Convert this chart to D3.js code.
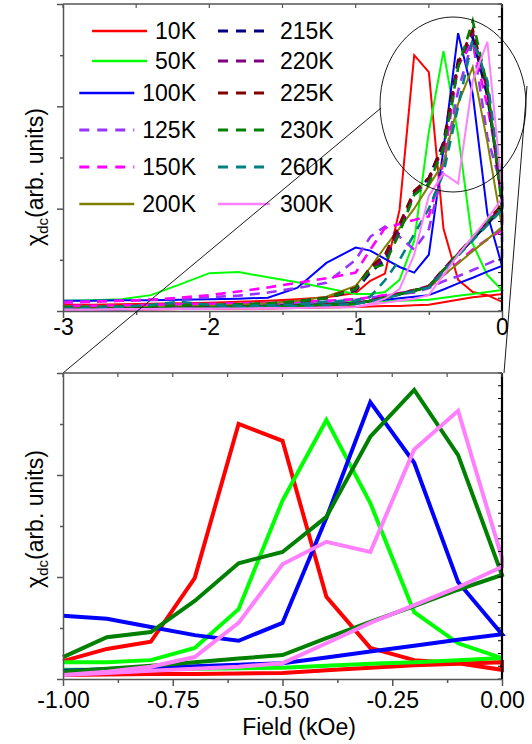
<!DOCTYPE html>
<html>
<head>
<meta charset="utf-8">
<script src="https://cdn.jsdelivr.net/npm/d3@7"></script>
<style>
  body { margin: 0; background: #fff; }
  svg { display: block; font-family: Arial, "Liberation Sans", Helvetica, sans-serif; }
</style>
</head>
<body>
<svg id="chart" width="532" height="744"></svg>
<script>
// Applied field (kOe) at which chi_dc was recorded
const fields = [-3, -2.8, -2.6, -2.4, -2.2, -2.0, -1.8, -1.6, -1.4, -1.2,
                -1.0, -0.9, -0.8, -0.7, -0.6, -0.5, -0.4, -0.3, -0.2, -0.1, 0];

// Temperatures, colours and line styles
const temps   = ["10K", "50K", "100K", "125K", "150K", "200K", "215K", "220K", "225K", "230K", "260K", "300K"];
const colors  = ["#ff0000", "#00ff00", "#0000ff", "#9933ff", "#ff00ff", "#808000",
                 "#000080", "#800080", "#800000", "#008000", "#008080", "#ff80ff"];
const dashed  = [false, false, false, true, true, false, true, true, true, true, true, false];

// chi_dc (arb. units) on the up-sweep branch
const up10  = [0.12,0.12,0.13,0.14,0.15,0.16,0.18,0.20,0.23,0.27,0.35,0.59,0.73,1.98,5.00,4.67,1.61,0.61,0.37,0.31,0.18];
const up50  = [0.20,0.21,0.23,0.31,0.52,0.74,0.76,0.66,0.56,0.45,0.33,0.33,0.37,0.61,1.37,3.50,5.08,3.45,1.31,0.70,0.41];
const up100 = [0.20,0.20,0.21,0.21,0.22,0.23,0.24,0.26,0.45,0.94,1.24,1.18,1.02,0.86,0.75,1.10,3.16,5.43,4.24,1.90,0.88];
const up125 = [0.18,0.19,0.20,0.22,0.24,0.27,0.30,0.36,0.45,0.55,1.00,1.45,1.65,1.45,1.20,1.60,2.80,4.30,5.30,3.40,2.40];
const up150 = [0.16,0.18,0.20,0.22,0.26,0.31,0.38,0.46,0.55,0.64,0.75,1.20,1.62,1.70,1.78,1.85,2.90,4.80,5.25,4.00,2.50];
const up200 = [0.05,0.06,0.07,0.08,0.09,0.10,0.12,0.15,0.20,0.28,0.49,0.85,1.25,1.62,2.00,2.45,2.89,4.05,4.77,3.30,1.64];
const up215 = [0.06,0.06,0.07,0.08,0.09,0.10,0.12,0.14,0.18,0.25,0.40,0.75,1.00,1.55,2.30,2.60,3.30,4.90,5.35,4.20,2.20];
const up220 = [0.07,0.07,0.08,0.09,0.10,0.11,0.13,0.15,0.19,0.26,0.42,0.80,1.05,1.60,2.30,2.55,3.20,4.80,5.45,4.30,2.10];
const up225 = [0.06,0.07,0.07,0.08,0.09,0.10,0.12,0.14,0.18,0.26,0.45,0.85,1.10,1.70,2.35,2.60,3.25,4.85,5.50,4.35,2.15];
const up230 = [0.08,0.08,0.09,0.10,0.11,0.12,0.13,0.15,0.19,0.25,0.43,0.82,0.92,1.53,2.27,2.49,3.18,4.75,5.67,4.39,2.04];
const up260 = [0.05,0.06,0.08,0.12,0.18,0.12,0.10,0.11,0.13,0.18,0.20,0.28,0.60,1.00,1.50,2.00,2.70,4.00,5.30,4.50,2.40];
const up300 = [0.03,0.03,0.04,0.04,0.05,0.05,0.05,0.06,0.06,0.07,0.08,0.14,0.24,0.43,1.10,2.25,2.69,2.49,4.50,5.26,2.37];

// chi_dc (arb. units) on the return branch
const dn10  = [0.02,0.02,0.03,0.03,0.04,0.04,0.05,0.05,0.06,0.07,0.08,0.09,0.10,0.10,0.11,0.12,0.17,0.22,0.27,0.30,0.33];
const dn50  = [0.05,0.06,0.07,0.08,0.09,0.10,0.11,0.12,0.14,0.16,0.18,0.18,0.19,0.20,0.21,0.22,0.26,0.30,0.33,0.37,0.41];
const dn100 = [0.04,0.05,0.06,0.07,0.08,0.09,0.10,0.11,0.12,0.14,0.16,0.19,0.22,0.25,0.28,0.31,0.42,0.54,0.65,0.77,0.88];
const dn125 = [0.08,0.08,0.09,0.10,0.10,0.11,0.12,0.13,0.15,0.18,0.22,0.26,0.30,0.33,0.36,0.45,0.58,0.68,0.80,0.92,1.05];
const dn150 = [0.10,0.10,0.11,0.12,0.13,0.14,0.15,0.16,0.18,0.20,0.23,0.27,0.31,0.35,0.40,0.46,0.70,0.95,1.20,1.40,1.58];
const dn200 = [0.04,0.05,0.05,0.06,0.07,0.08,0.09,0.10,0.11,0.13,0.15,0.20,0.25,0.32,0.38,0.47,0.70,0.93,1.17,1.40,1.64];
const dn215 = [0.03,0.03,0.04,0.05,0.06,0.07,0.08,0.09,0.10,0.12,0.14,0.20,0.26,0.33,0.40,0.48,0.80,1.10,1.40,1.70,2.00];
const dn220 = [0.03,0.04,0.04,0.05,0.06,0.07,0.08,0.09,0.10,0.12,0.15,0.21,0.27,0.34,0.41,0.49,0.82,1.12,1.42,1.72,2.05];
const dn225 = [0.04,0.04,0.05,0.05,0.06,0.07,0.08,0.09,0.10,0.12,0.14,0.20,0.27,0.34,0.41,0.48,0.81,1.13,1.44,1.76,2.08];
const dn230 = [0.04,0.04,0.05,0.05,0.06,0.07,0.08,0.09,0.10,0.12,0.14,0.20,0.26,0.33,0.40,0.47,0.80,1.12,1.43,1.75,2.04];
const dn260 = [0.02,0.03,0.03,0.04,0.05,0.06,0.07,0.08,0.09,0.11,0.14,0.19,0.25,0.32,0.39,0.46,0.78,1.08,1.38,1.68,1.98];
const dn300 = [0.02,0.02,0.03,0.03,0.04,0.04,0.05,0.05,0.06,0.07,0.08,0.12,0.16,0.20,0.24,0.31,0.70,1.10,1.45,1.80,2.20];

// Tick values
const topXTicks = [-3, -2, -1, 0];
const botXTicks = [-1.0, -0.75, -0.5, -0.25, 0.0];
const yMajor = [0, 2, 4, 6];
const yMinor = [1, 3, 5];
const insetTemps = ["10K", "50K", "100K", "230K", "300K"];

const upAll = [up10, up50, up100, up125, up150, up200, up215, up220, up225, up230, up260, up300];
const dnAll = [dn10, dn50, dn100, dn125, dn150, dn200, dn215, dn220, dn225, dn230, dn260, dn300];

const series = temps.map((t, i) => ({
  name: t, color: colors[i], dashed: dashed[i],
  up: fields.map((f, j) => [f, upAll[i][j]]),
  dn: fields.map((f, j) => [f, dnAll[i][j]])
}));

const svg = d3.select("#chart");
const FONT = 23;
const axisGrey = "#555";

function drawFrame(x, y, xTicks, xMinor, fmt, labelGap) {
  const [x0, x1] = x.range();
  const [y0, y1] = y.range(); // y0 bottom, y1 top
  const g = svg.append("g");

  // right axis, black, dense inward ticks
  const rightTicks = d3.range(0, 6.001, 0.25);
  g.selectAll(null).data(rightTicks).join("line")
    .attr("x1", x1).attr("x2", x1 - 4)
    .attr("y1", d => y(d)).attr("y2", d => y(d))
    .attr("stroke", "#000").attr("stroke-width", 1);
  g.append("line").attr("x1", x1).attr("x2", x1).attr("y1", y1).attr("y2", y0)
    .attr("stroke", "#000").attr("stroke-width", 2.2);

  // top axis with inward ticks
  g.append("line").attr("x1", x0).attr("x2", x1).attr("y1", y1).attr("y2", y1)
    .attr("stroke", axisGrey).attr("stroke-width", 1.5);
  g.selectAll(null).data(xTicks.concat(xMinor)).join("line")
    .attr("x1", d => x(d)).attr("x2", d => x(d))
    .attr("y1", y1).attr("y2", y1 + 4)
    .attr("stroke", axisGrey).attr("stroke-width", 1.2);

  // left axis
  const left = g.append("g").attr("transform", `translate(${x0},0)`)
    .call(d3.axisLeft(y).tickValues(yMajor).tickSize(6).tickSizeOuter(0).tickFormat(""));
  left.append("g").call(d3.axisLeft(y).tickValues(yMinor).tickSize(3).tickSizeOuter(0).tickFormat(""))
    .select(".domain").remove();
  left.selectAll("path,line").attr("stroke", axisGrey).attr("stroke-width", 1.5);

  // bottom axis with labels
  const bottom = g.append("g").attr("transform", `translate(0,${y0})`)
    .call(d3.axisBottom(x).tickValues(xTicks).tickSize(7).tickSizeOuter(0).tickFormat(fmt));
  bottom.append("g").call(d3.axisBottom(x).tickValues(xMinor).tickSize(4).tickSizeOuter(0).tickFormat(""))
    .select(".domain").remove();
  bottom.selectAll("path,line").attr("stroke", axisGrey).attr("stroke-width", 1.5);
  bottom.selectAll("text").attr("font-size", FONT).attr("fill", "#000")
    .attr("font-family", "Arial, 'Liberation Sans', sans-serif")
    .attr("y", labelGap).attr("dy", "0.71em");
  return g;
}

function yLabel(cx, cy) {
  const t = svg.append("text")
    .attr("transform", `translate(${cx},${cy}) rotate(-90)`)
    .attr("text-anchor", "middle").attr("font-size", FONT).attr("fill", "#000");
  t.append("tspan").text("χ");
  t.append("tspan").attr("font-size", 15).attr("dy", 5).text("dc");
  t.append("tspan").attr("dy", -5).text("(arb. units)");
}

function pathOf(s, x, y, keep) {
  const pts = s.up.filter(keep).concat(s.dn.filter(keep).reverse());
  return d3.line().x(d => x(d[0])).y(d => y(d[1]))(pts);
}

// ---------- overview panel: -3 ... 0 kOe ----------
const xTop = d3.scaleLinear().domain([-3, 0]).range([63, 502]);
const yTop = d3.scaleLinear().domain([0, 6]).range([311, 4]);

const gTopLines = svg.append("g");
series.forEach(s => {
  gTopLines.append("path")
    .attr("d", pathOf(s, xTop, yTop, () => true))
    .attr("fill", "none").attr("stroke", s.color)
    .attr("stroke-width", s.dashed ? 2.6 : 2)
    .attr("stroke-dasharray", s.dashed ? "10,7" : null)
    .attr("stroke-linejoin", "miter");
});
drawFrame(xTop, yTop, topXTicks, [-2.5, -1.5, -0.5], d => String(d), 8);
yLabel(43, 177);

// legend, two columns
const rowY = [31, 61, 93, 130, 167, 204];
const legend = svg.append("g").attr("font-size", FONT);
series.forEach((s, i) => {
  const col = i < 6 ? 0 : 1;
  const yy = rowY[i % 6];
  const txt = legend.append("text").attr("y", yy).attr("dy", "0.35em").attr("fill", "#000").text(s.name);
  let tx, lx0, lx1;
  if (col === 0) {
    txt.attr("x", 196).attr("text-anchor", "end");
    const w = txt.node().getComputedTextLength();
    tx = 196 - w; lx1 = tx - 8; lx0 = lx1 - 55;
  } else {
    txt.attr("x", 280);
    lx0 = 218; lx1 = 270;
  }
  legend.append("line").attr("x1", lx0).attr("x2", lx1).attr("y1", yy).attr("y2", yy)
    .attr("stroke", s.color).attr("stroke-width", s.dashed ? 2.8 : 2.4)
    .attr("stroke-dasharray", s.dashed ? "10,8" : null);
});

// magnifier outline and connectors
const zoomG = svg.append("g").attr("fill", "none").attr("stroke", "#000").attr("stroke-width", 0.9);
zoomG.append("ellipse").attr("cx", 453).attr("cy", 104.5).attr("rx", 73).attr("ry", 87.5);
zoomG.append("line").attr("x1", 381).attr("y1", 108).attr("x2", 63).attr("y2", 373);
zoomG.append("line").attr("x1", 527).attr("y1", 86).attr("x2", 504).attr("y2", 373);

// ---------- enlarged panel: -1 ... 0 kOe ----------
const xBot = d3.scaleLinear().domain([-1, 0]).range([63, 502]);
const yBot = d3.scaleLinear().domain([0, 6]).range([679, 373]);

const gBotLines = svg.append("g");
series.filter(s => insetTemps.includes(s.name)).forEach(s => {
  gBotLines.append("path")
    .attr("d", pathOf(s, xBot, yBot, d => d[0] >= -1))
    .attr("fill", "none").attr("stroke", s.color)
    .attr("stroke-width", 4).attr("stroke-linejoin", "miter");
});
drawFrame(xBot, yBot, botXTicks, [-0.875, -0.625, -0.375, -0.125], d => d.toFixed(2), 13);
yLabel(43, 519);

svg.append("text").attr("x", 299).attr("y", 735).attr("text-anchor", "middle")
  .attr("font-size", FONT).attr("fill", "#000").text("Field (kOe)");
</script>
</body>
</html>
